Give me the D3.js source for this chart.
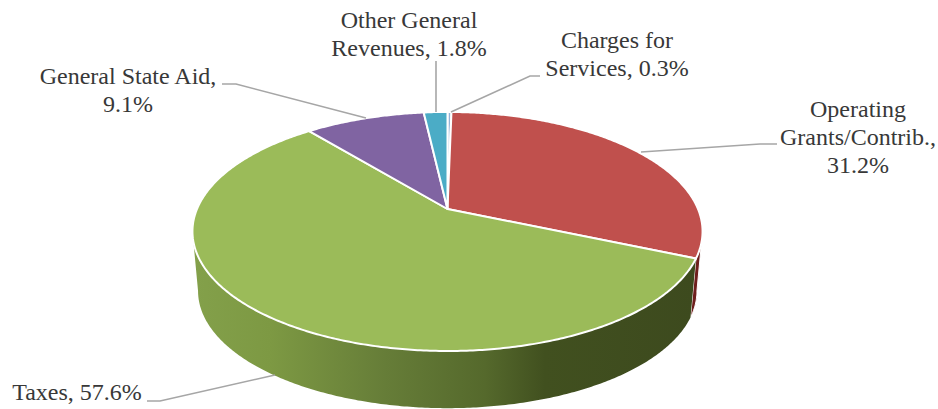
<!DOCTYPE html>
<html>
<head>
<meta charset="utf-8">
<script src="https://cdnjs.cloudflare.com/ajax/libs/d3/7.9.0/d3.min.js"></script>
<style>
  html, body { margin: 0; padding: 0; background: #fff; }
  svg { display: block; }
  text { font-family: "Liberation Serif", serif; font-size: 24px; fill: #383838; }
</style>
</head>
<body>
<svg id="chart" width="938" height="409"></svg>
<script>
// Revenue shares, clockwise from twelve o'clock
const categories = ["Charges for Services", "Operating Grants/Contrib.", "Taxes", "General State Aid", "Other General Revenues"];
const shares = [0.3, 31.2, 57.6, 9.1, 1.8];
const topColors = ["#95b3d7", "#c0504d", "#9bbb59", "#8064a2", "#4bacc6"];
const wallColors = ["#5b6f8a", "#6e1f1d", "#6b8236", "#4d3c61", "#2c6a7c"];

const labelLines = [
  ["Charges for", "Services, 0.3%"],
  ["Operating", "Grants/Contrib.,", "31.2%"],
  ["Taxes, 57.6%"],
  ["General State Aid,", "9.1%"],
  ["Other General", "Revenues, 1.8%"]
];
const labelAnchors = [[617, 48], [858, 117], [77, 400], [128, 84], [409, 28]];
const leaders = [
  [[540, 76], [530, 76], [451, 112]],
  [[777, 144], [760, 144], [641, 152]],
  [[147, 401], [160, 401], [275, 375]],
  [[222, 84], [236, 84], [366, 118]],
  [[436, 61], [436, 112]]
];

const svg = d3.select("#chart");
const tilt = 0.188;

// Perspective mapping of the pie's top and bottom discs onto the page
function discPoint(angle, disc) {
  const u = Math.sin(angle), v = -Math.cos(angle), w = 1 - tilt * v;
  return [disc.cx + disc.rx * u / w, disc.cy + disc.ry * v / w];
}
const topDisc = { cx: 447.5, cy: 209, rx: 250.5, ry: 115.3 };
const baseDisc = { cx: 447.5, cy: 269, rx: 245, ry: 113 };

const slices = d3.pie().sort(null).value(d => d).startAngle(0).endAngle(2 * Math.PI)(shares);

function arcAngles(a0, a1) {
  const n = Math.max(2, Math.ceil(Math.abs(a1 - a0) / 0.01));
  return d3.range(n + 1).map(i => a0 + (a1 - a0) * i / n);
}
const path = d3.line();

// Shading across the front wall of the taxes slice
const defs = svg.append("defs");
const wallGrad = defs.append("linearGradient")
  .attr("id", "taxesWall").attr("gradientUnits", "userSpaceOnUse")
  .attr("x1", 195).attr("x2", 695).attr("y1", 0).attr("y2", 0);
[[0, "#83a04a"], [0.15, "#7d9943"], [0.38, "#667d38"], [0.58, "#55692c"], [0.7, "#41501f"], [1, "#3d4a1e"]]
  .forEach(([o, c]) => wallGrad.append("stop").attr("offset", o).attr("stop-color", c));

// Walls run between the two silhouette tangents of the disc
const tangent = Math.acos(-tilt);
const frontFrom = tangent, frontTo = 2 * Math.PI - tangent;
const wallPath = (a0, a1) => {
  const angles = arcAngles(a0, a1);
  const upper = angles.map(a => discPoint(a, topDisc));
  const lower = angles.slice().reverse().map(a => discPoint(a, baseDisc));
  return path(upper.concat(lower)) + "Z";
};
slices.forEach((s, i) => {
  const a0 = Math.max(s.startAngle, frontFrom), a1 = Math.min(s.endAngle, frontTo);
  if (a1 <= a0) return;
  svg.append("path")
    .attr("d", wallPath(a0, a1))
    .attr("fill", i === 2 ? "url(#taxesWall)" : wallColors[i])
    .attr("stroke", i === 2 ? "none" : "#fff")
    .attr("stroke-width", 1);
});

// Top surface of the pie
svg.append("g").selectAll("path").data(slices).join("path")
  .attr("d", s => {
    const rim = arcAngles(s.startAngle, s.endAngle).map(a => discPoint(a, topDisc));
    return path([[topDisc.cx, topDisc.cy], ...rim]) + "Z";
  })
  .attr("fill", (s, i) => topColors[i])
  .attr("stroke", "#fff")
  .attr("stroke-width", 2)
  .attr("stroke-linejoin", "round");

// Leader lines
svg.append("g").selectAll("path").data(leaders).join("path")
  .attr("d", d => path(d))
  .attr("fill", "none")
  .attr("stroke", "#a6a6a6")
  .attr("stroke-width", 1.6);

// Labels
const lineHeight = 28;
const labels = svg.append("g").selectAll("text").data(labelLines).join("text")
  .attr("text-anchor", "middle")
  .attr("x", (d, i) => labelAnchors[i][0])
  .attr("y", (d, i) => labelAnchors[i][1]);
labels.selectAll("tspan").data(d => d).join("tspan")
  .attr("x", function () { return this.parentNode.getAttribute("x"); })
  .attr("dy", (d, i) => i ? lineHeight : 0)
  .text(d => d);
</script>
</body>
</html>
